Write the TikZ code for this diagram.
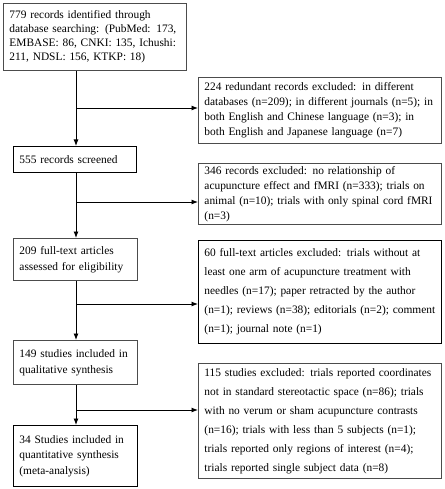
\documentclass[tikz,border=0pt]{standalone}
\usepackage{fontspec}
\setmainfont{Liberation Serif}
\usetikzlibrary{arrows.meta}
\begin{document}
\begin{tikzpicture}[x=1pt,y=-1pt]
	\tikzstyle{box}=[draw=black!70, line width=0.9pt, anchor=north west, align=left, inner xsep=6pt, inner ysep=0pt, font=\fontsize{11.4}{14}\selectfont]
	\tikzstyle{darkbox}=[box, draw=black]
	\tikzstyle{loose}=[font=\fontsize{11.4}{19}\selectfont]
	\tikzset{edge/.style = {-{Latex[length=6.5pt,width=5pt]}, line width=0.9pt}}
	\useasboundingbox (0,0) rectangle (444,489);
	
	% main column
	\node[box, text width=171pt, minimum height=67pt](rec) at (3,3)
		{779 records identified through\\database searching: (PubMed: 173,\\EMBASE: 86, CNKI: 135, Ichushi:\\211, NDSL: 156, KTKP: 18)};
	\node[darkbox, text width=111pt, minimum height=26pt](scr) at (13,146) {555 records screened};
	\node[box, font=\fontsize{11.4}{16}\selectfont, text width=112pt, minimum height=42pt](full) at (13,238)
		{209 full-text articles\\assessed for eligibility};
	\node[box, font=\fontsize{11.4}{16}\selectfont, text width=112pt, minimum height=44pt](qual) at (13,340)
		{149 studies included in\\qualitative synthesis};
	\node[darkbox, font=\fontsize{11.4}{15.5}\selectfont, text width=112pt, minimum height=61pt](meta) at (13,425)
		{34 Studies included in\\quantitative synthesis\\(meta-analysis)};
	
	% excluded records
	\node[box, font=\fontsize{11.4}{15}\selectfont, text width=231pt, minimum height=66pt](dup) at (198,77)
		{224 redundant records excluded: in different\\databases (n=209); in different journals (n=5); in\\both English and Chinese language (n=3); in\\both English and Japanese language (n=7)};
	\node[box, font=\fontsize{11.4}{15}\selectfont, text width=231pt, minimum height=61pt](ex1) at (198,163)
		{346 records excluded: no relationship of\\acupuncture effect and fMRI (n=333); trials on\\animal (n=10); trials with only spinal cord fMRI\\(n=3)};
	\node[darkbox, loose, text width=231pt, minimum height=103pt](ex2) at (198,240)
		{60 full-text articles excluded: trials without at\\least one arm of acupuncture treatment with\\needles (n=17); paper retracted by the author\\(n=1); reviews (n=38); editorials (n=2); comment\\(n=1); journal note (n=1)};
	\node[box, loose, text width=231pt, minimum height=115pt](ex3) at (198,363)
		{115 studies excluded: trials reported coordinates\\not in standard stereotactic space (n=86); trials\\with no verum or sham acupuncture contrasts\\(n=16); trials with less than 5 subjects (n=1);\\trials reported only regions of interest (n=4);\\trials reported single subject data (n=8)};
	
	% flow
	\coordinate (j1) at (76,108);
	\coordinate (j2) at (76,202);
	\coordinate (j3) at (76,304);
	\coordinate (j4) at (76,410);
	\draw[edge](rec.south -| j1) to (j1 |- scr.north);
	\draw[edge](j1) to (j1 -| dup.west);
	\draw[edge](j2 |- scr.south) to (j2 |- full.north);
	\draw[edge](j2) to (j2 -| ex1.west);
	\draw[edge](j3 |- full.south) to (j3 |- qual.north);
	\draw[edge](j3) to (j3 -| ex2.west);
	\draw[edge](j4 |- qual.south) to (j4 |- meta.north);
	\draw[edge](j4) to (j4 -| ex3.west);
\end{tikzpicture}
\end{document}
